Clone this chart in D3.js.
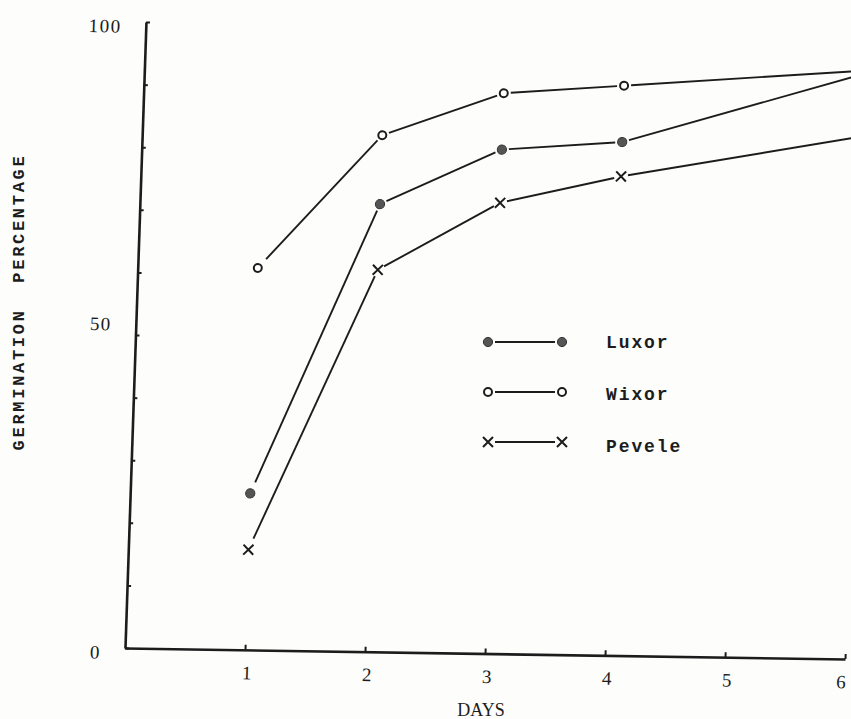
<!DOCTYPE html>
<html>
<head>
<meta charset="utf-8">
<script src="https://cdn.jsdelivr.net/npm/d3@7"></script>
<style>
body { margin: 0; background: #fff; }
svg { display: block; background: #fdfdfc; }
</style>
</head>
<body>
<svg id="chart" width="851" height="719"></svg>
<script>
// days on which germination was counted
var days = [1, 2, 3, 4, 6];

// germination percentage for each cultivar
var luxor = [25, 71.5, 80.5, 82, 93.5];
var wixor = [61, 82.5, 89.5, 91, 94];
var pevele = [16, 61, 72, 76.5, 83.5];

var seriesNames = ["Luxor", "Wixor", "Pevele"];
var seriesValues = [luxor, wixor, pevele];
var seriesMarks = ["dot", "ring", "cross"];

// axis ticks
var xTicks = [1, 2, 3, 4, 5, 6];
var yTicks = d3.range(0, 101, 10);
var yLabels = [0, 50, 100];

var ink = "#1c1c1c";

var svg = d3.select("#chart");

// the scanned figure is a little skewed, so the plot group follows it
var plot = svg.append("g")
  .attr("transform", "matrix(1,0.0153,-0.0335,1,125,648)");

var x = d3.scaleLinear().domain([0, 6]).range([0, 720]);
var y = d3.scaleLinear().domain([0, 100]).range([0, -626]);

// x axis, ticks point up into the plot
var xAxis = plot.append("g")
  .call(d3.axisBottom(x)
    .tickValues(xTicks)
    .tickFormat(d3.format("d"))
    .tickSizeInner(-5)
    .tickSizeOuter(0)
    .tickPadding(16));

// y axis, ticks point right into the plot
var yAxis = plot.append("g")
  .call(d3.axisLeft(y)
    .tickValues(yTicks)
    .tickSizeInner(-4)
    .tickSizeOuter(0)
    .tickPadding(24)
    .tickFormat(function(d) { return yLabels.indexOf(d) >= 0 ? d : ""; }));

[xAxis, yAxis].forEach(function(ax) {
  ax.select(".domain").attr("stroke", ink).attr("stroke-width", 2.6);
  ax.selectAll(".tick line").attr("stroke", ink).attr("stroke-width", 2);
  ax.selectAll(".tick text")
    .attr("fill", ink)
    .style("font-family", "'Liberation Serif', serif")
    .style("font-size", "19px");
});

// the last day label sits just inside the picture edge
xAxis.selectAll(".tick text")
  .attr("dx", function(d) { return d === 6 ? "-0.2em" : "0.1em"; });

// typewritten labels sit a bit off the ticks
yAxis.selectAll(".tick text")
  .attr("dy", function(d) { return d === 50 ? "-0.25em" : "0.55em"; })
  .style("letter-spacing", "1.5px");

// lines stop short of the markers
function segments(vals) {
  var out = [];
  for (var i = 0; i < vals.length - 1; i++) {
    var x0 = x(days[i]), y0 = y(vals[i]);
    var x1 = x(days[i + 1]), y1 = y(vals[i + 1]);
    var len = Math.sqrt((x1 - x0) * (x1 - x0) + (y1 - y0) * (y1 - y0));
    var g0 = i === 0 ? 12 : 7, g1 = 7;
    out.push([
      [x0 + (x1 - x0) * g0 / len, y0 + (y1 - y0) * g0 / len],
      [x1 - (x1 - x0) * g1 / len, y1 - (y1 - y0) * g1 / len]
    ]);
  }
  return out;
}

function drawMark(sel, kind) {
  if (kind === "dot") {
    sel.append("circle").attr("r", 4.6)
      .attr("fill", "#555").attr("stroke", "#333").attr("stroke-width", 1);
  } else if (kind === "ring") {
    sel.append("circle").attr("r", 4)
      .attr("fill", "#fff").attr("stroke", ink).attr("stroke-width", 2);
  } else {
    sel.append("path").attr("d", "M-5,-5L5,5M-5,5L5,-5")
      .attr("stroke", ink).attr("stroke-width", 2).attr("fill", "none");
  }
}

seriesValues.forEach(function(vals, k) {
  var g = plot.append("g").attr("class", "series");

  g.selectAll("line")
    .data(segments(vals))
    .enter().append("line")
    .attr("x1", function(s) { return s[0][0]; })
    .attr("y1", function(s) { return s[0][1]; })
    .attr("x2", function(s) { return s[1][0]; })
    .attr("y2", function(s) { return s[1][1]; })
    .attr("stroke", ink)
    .attr("stroke-width", 1.9);

  g.selectAll(".mark")
    .data(vals)
    .enter().append("g")
    .attr("class", "mark")
    .attr("transform", function(d, i) { return "translate(" + x(days[i]) + "," + y(d) + ")"; })
    .each(function() { drawMark(d3.select(this), seriesMarks[k]); });
});

// legend
var legend = svg.append("g").attr("transform", "translate(488,342)");
seriesNames.forEach(function(name, k) {
  var row = legend.append("g").attr("transform", "translate(0," + (k * 50) + ")");
  row.append("line")
    .attr("x1", 7).attr("x2", 67)
    .attr("stroke", ink).attr("stroke-width", 1.9);
  drawMark(row.append("g"), seriesMarks[k]);
  drawMark(row.append("g").attr("transform", "translate(74,0)"), seriesMarks[k]);
  row.append("text")
    .attr("x", 118).attr("y", 6 + k * 2)
    .attr("fill", ink)
    .style("font-family", "'Liberation Mono', monospace")
    .style("font-size", "18px")
    .style("font-weight", "bold")
    .style("letter-spacing", "1.9px")
    .text(name);
});

// axis titles
svg.append("text")
  .attr("x", 481).attr("y", 716)
  .attr("text-anchor", "middle")
  .attr("fill", ink)
  .style("font-family", "'Liberation Serif', serif")
  .style("font-size", "18px")
  .text("DAYS");

svg.append("text")
  .attr("transform", "translate(24,302) rotate(-90)")
  .attr("text-anchor", "middle")
  .attr("fill", ink)
  .style("font-family", "'Liberation Mono', monospace")
  .style("font-size", "17px")
  .style("font-weight", "bold")
  .style("letter-spacing", "2.7px")
  .style("white-space", "pre")
  .text("GERMINATION  PERCENTAGE");
</script>
</body>
</html>
